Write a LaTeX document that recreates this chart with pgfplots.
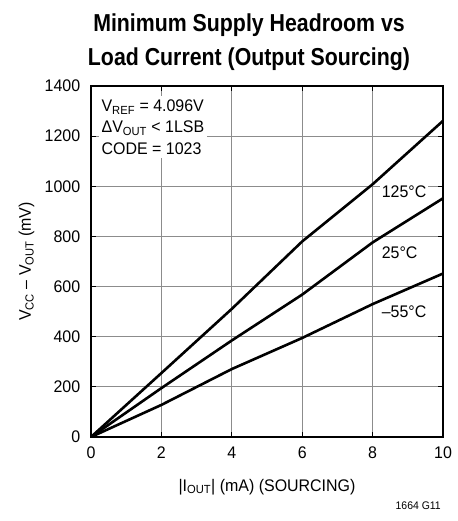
\documentclass[border=0pt]{standalone}
\usepackage{pgfplots}
\pgfplotsset{compat=1.18}
\usepackage{fontspec}
\setmainfont{Liberation Sans}[FakeStretch=0.95]
\newfontfamily\titlefont{Liberation Sans}[FakeStretch=0.87]
\begin{document}
\fontsize{16.8}{19.7}\selectfont
\begin{tikzpicture}[x=1pt,y=1pt]
\begin{axis}[
  at={(0pt,0pt)}, anchor=south west,
  scale only axis, width=352pt, height=351pt,
  xmin=0, xmax=10, ymin=0, ymax=1400,
  xtick={0,2,...,10}, ytick={0,200,...,1400},
  grid=major,
  grid style={black!45, line width=1.1pt},
  axis line style={line width=1.6pt},
  major tick length=5pt,
  tick style={black, line width=1pt},
  tick align=inside,
  /pgf/number format/assume math mode=true,
  /pgf/number format/1000 sep={},
  ticklabel style={font=\fontsize{16.8}{19.7}\selectfont},
  xticklabel style={yshift=-4pt},
  yticklabel style={xshift=-5pt},
  xlabel={|I\textsubscript{OUT}| (mA) (SOURCING)},
  xlabel style={at={(axis description cs:0.5,0)}, anchor=base, yshift=-54pt, font=\fontsize{16.8}{19.7}\selectfont},
  ylabel={V\textsubscript{CC} – V\textsubscript{OUT} (mV)},
  ylabel style={at={(axis description cs:0,0.5)}, anchor=base, yshift=60pt, font=\fontsize{16.8}{19.7}\selectfont},
]
\addplot[black, line width=2.6pt] coordinates {(0,0) (2,255) (4,511) (6,780) (8,1008) (10,1261)};
\addplot[black, line width=2.6pt] coordinates {(0,0) (2,195) (4,385) (6,568) (8,776) (10,952)};
\addplot[black, line width=2.6pt] coordinates {(0,0) (2,128) (4,271) (6,395) (8,530) (10,652)};
\node[anchor=north west, fill=white, align=left, inner xsep=3pt, inner ysep=4pt, font=\fontsize{16.8}{21.3}\selectfont]
  at (axis cs:0.21,1362) {V\textsubscript{REF} = 4.096V\\ΔV\textsubscript{OUT} < 1LSB\\CODE = 1023};
\node[anchor=west, fill=white, inner xsep=2pt, inner ysep=1pt] at (axis cs:8.2,979) {125°C};
\node[anchor=west, fill=white, inner xsep=2pt, inner ysep=1pt] at (axis cs:8.2,736) {25°C};
\node[anchor=west, fill=white, inner xsep=2pt, inner ysep=1pt] at (axis cs:8.2,500) {–55°C};
\end{axis}
\node[anchor=base, font=\titlefont\bfseries\fontsize{24.5}{27}\selectfont] at (158pt,405pt) {Minimum Supply Headroom vs};
\node[anchor=base, font=\titlefont\bfseries\fontsize{24.5}{27}\selectfont] at (158pt,371pt) {Load Current (Output Sourcing)};
\node[anchor=base east, font=\fontsize{11}{13}\selectfont, inner sep=0pt] at (350pt,-72pt) {1664 G11};
\path[use as bounding box] (-91pt,-84pt) rectangle (362pt,437pt);
\end{tikzpicture}
\end{document}
